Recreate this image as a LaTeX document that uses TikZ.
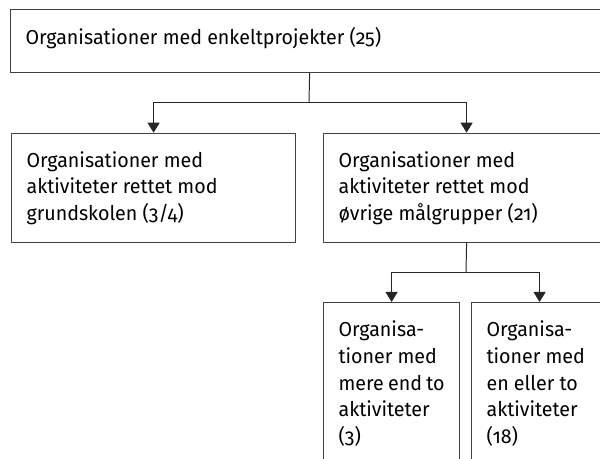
\documentclass[tikz,border=0pt]{standalone}
\usepackage{fontspec}
\setmainfont{Fira Sans}[Numbers=OldStyle, FakeStretch=0.97]
\usetikzlibrary{arrows.meta}
\newcommand{\boxtext}[3]{\parbox[t][#1][t]{#2}{\raggedright #3}}

\begin{document}
\begin{tikzpicture}[x=0.025cm,y=-0.025cm]
  \tikzset{module/.style={draw=black!75, line width=0.8pt, anchor=north west,
      inner xsep=0.375cm, inner ysep=0.45cm, font=\fontsize{14.4}{19.1}\selectfont},
    link/.style={draw=black!85, line width=0.7pt},
    arrowlink/.style={link, -{Triangle[width=0.3cm,length=0.25cm]}}}
  \useasboundingbox (0,0) rectangle (600,459);
  \clip (0,0) rectangle (600,459);

  \node[module] (top) at (10,9.3) {\boxtext{0.66cm}{14.2cm}{Organisationer med enkeltprojekter (25)}};
  \node[module] (left) at (11,132.7) {\boxtext{1.825cm}{6.35cm}{Organisationer med\\ aktiviteter rettet mod\\ grundskolen (3/4)}};
  \node[module] (right) at (323,132.7) {\boxtext{1.825cm}{6.4cm}{Organisationer med\\ aktiviteter rettet mod\\ øvrige målgrupper (21)}};
  \node[module] (few) at (323,302) {\boxtext{3.3cm}{2.65cm}{Organisa-\\ tioner~med\\ mere~end~to\\ aktiviteter\\ (3)}};
  \node[module] (many) at (471,302) {\boxtext{3.3cm}{2.65cm}{Organisa-\\ tioner~med\\ en~eller~to\\ aktiviteter\\ (18)}};

  \coordinate (j1) at (309,102);
  \coordinate (j2) at (466,272);

  \draw[link] (top.south) -- (j1)
    (right.south) -- (j2);
  \draw[arrowlink] (j1) -| (left.north);
  \draw[arrowlink] (j1) -| (right.north);
  \draw[arrowlink] (j2) -| (few.north);
  \draw[arrowlink] (j2) -| (many.north);
\end{tikzpicture}
\end{document}
